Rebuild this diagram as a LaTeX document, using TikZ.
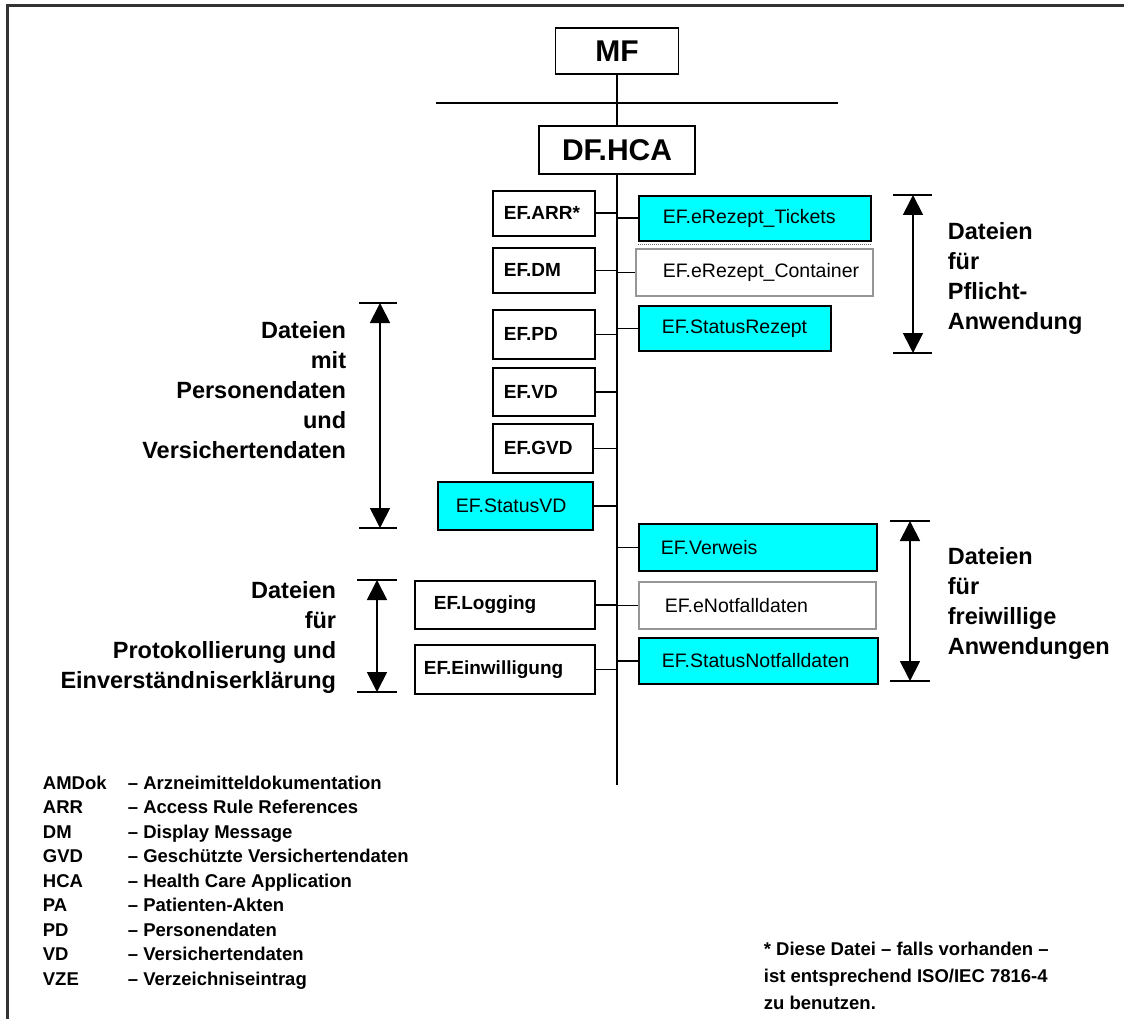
\documentclass[tikz,border=0pt]{standalone}
\usepackage{fontspec}
\setmainfont{Liberation Sans}
\usetikzlibrary{arrows.meta,calc}
\definecolor{efcyan}{RGB}{0,255,255}
\definecolor{efgray}{RGB}{150,150,150}

\begin{document}
\begin{tikzpicture}[x=1pt,y=-1pt,line width=1.8pt,
            every node/.style={inner sep=0pt},
            efbox/.style={draw,anchor=north west,align=left,
              font=\fontsize{19.5}{22}\selectfont},
            efboxb/.style={efbox,font=\fontsize{19}{22}\selectfont\bfseries},
            dimlabel/.style={font=\fontsize{23.5}{30}\selectfont\bfseries},
            dim/.style={line width=1.8pt,{Triangle[length=20pt,width=20pt]}-{Triangle[length=20pt,width=20pt]}},
            >={Stealth[width=3pt]}]
            \useasboundingbox(0,0)rectangle(1124,1019);
            \draw[line width=3pt,black!80](1124,6)--(7,6)--(7,1019);
            % head of the tree
            \node[draw,minimum width=123,minimum height=46,font=\fontsize{30}{32}\selectfont\bfseries]
              (mf) at (617,51) {MF};
            \node[draw,minimum width=156,minimum height=48,font=\fontsize{30}{32}\selectfont\bfseries]
              (hca) at (617,150) {DF.HCA};
            \coordinate (sepl) at (436,103);
            \coordinate (sepr) at (838,103);
            \coordinate (busend) at (617,785);
            \draw(sepl)--(sepr);
            \draw(mf)--(hca);
            \draw(hca.south)--(busend);
            % files left of the bus
            \node[efboxb,minimum height=45,text width=80pt,inner xsep=11pt](arr) at (492,190) {EF.ARR*};
            \node[efboxb,minimum height=45,text width=80pt,inner xsep=11pt](dm) at (492,247) {EF.DM};
            \node[efboxb,minimum height=49,text width=80pt,inner xsep=11pt](pd) at (492,309) {EF.PD};
            \node[efboxb,minimum height=48,text width=80pt,inner xsep=11pt](vd) at (492,367) {EF.VD};
            \node[efboxb,minimum height=49,text width=78pt,inner xsep=11pt](gvd) at (492,423) {EF.GVD};
            \node[efbox,fill=efcyan,minimum height=48,text width=119pt,inner xsep=18pt](statusvd) at (437,481) {EF.StatusVD};
            \node[efboxb,minimum height=48,text width=142pt,inner xsep=19pt](logging) at (414,580) {EF.Logging};
            \node[efboxb,minimum height=49,text width=162pt,inner xsep=9pt](einw) at (414,644) {EF.Einwilligung};
            % files right of the bus
            \node[efbox,fill=efcyan,minimum height=45,text width=184pt,inner xsep=24pt](tickets) at (638,195) {EF.eRezept\_Tickets};
            \node[efbox,draw=efgray,minimum height=47,text width=183pt,inner xsep=27pt](container) at (635,248) {EF.eRezept\_Container};
            \node[efbox,fill=efcyan,minimum height=45,text width=146pt,inner xsep=23pt](statusrez) at (638,305) {EF.StatusRezept};
            \node[efbox,fill=efcyan,minimum height=47,text width=194pt,inner xsep=22pt](verweis) at (638,523) {EF.Verweis};
            \node[efbox,draw=efgray,minimum height=47,text width=185pt,inner xsep=26pt](enotf) at (638,581) {EF.eNotfalldaten};
            \node[efbox,fill=efcyan,minimum height=46,text width=193pt,inner xsep=23pt](statusnotf) at (638,637) {EF.StatusNotfalldaten};
            \draw[densely dotted,line width=1pt,black!60]([yshift=-3pt]tickets.south west)--([yshift=-3pt]tickets.south east);
            \draw(arr.east)--(arr.east-|hca.south);
            \draw(dm.east)--(dm.east-|hca.south);
            \draw(pd.east)--(pd.east-|hca.south);
            \draw(vd.east)--(vd.east-|hca.south);
            \draw(gvd.east)--(gvd.east-|hca.south);
            \draw(statusvd.east)--(statusvd.east-|hca.south);
            \draw(logging.east)--(logging.east-|hca.south);
            \draw(einw.east)--(einw.east-|hca.south);
            \draw(tickets.west)--(tickets.west-|hca.south);
            \draw(container.west)--(container.west-|hca.south);
            \draw(statusrez.west)--(statusrez.west-|hca.south);
            \draw(verweis.west)--(verweis.west-|hca.south);
            \draw(enotf.west)--(enotf.west-|hca.south);
            \draw(statusnotf.west)--(statusnotf.west-|hca.south);
            % ranges of files
            \coordinate (prtop) at (913,195); \coordinate (prbot) at (913,353);
            \coordinate (pvtop) at (380,303); \coordinate (pvbot) at (380,528);
            \coordinate (fwtop) at (910,521); \coordinate (fwbot) at (910,681);
            \coordinate (petop) at (377,580); \coordinate (pebot) at (377,692);
            \draw[dim](prtop)--(prbot);
            \draw[dim](pvtop)--(pvbot);
            \draw[dim](fwtop)--(fwbot);
            \draw[dim](petop)--(pebot);
            \draw([xshift=-20]prtop)--([xshift=19]prtop)([xshift=-20]prbot)--([xshift=19]prbot);
            \draw([xshift=-21]pvtop)--([xshift=17]pvtop)([xshift=-21]pvbot)--([xshift=17]pvbot);
            \draw([xshift=-20]fwtop)--([xshift=20]fwtop)([xshift=-20]fwbot)--([xshift=20]fwbot);
            \draw([xshift=-20]petop)--([xshift=20]petop)([xshift=-20]pebot)--([xshift=20]pebot);
            \node[dimlabel,anchor=west,align=left](prlabel) at (947,278) {Dateien\\für\\Pflicht-\\Anwendung};
            \node[dimlabel,anchor=east,align=right](pvlabel) at (347,390) {Dateien\\mit\\Personendaten\\und\\Versichertendaten};
            \node[dimlabel,anchor=west,align=left](fwlabel) at (947,603) {Dateien\\für\\freiwillige\\Anwendungen};
            \node[dimlabel,anchor=east,align=right](pelabel) at (337,637) {Dateien\\für\\Protokollierung und\\Einverständniserklärung};
            % abbreviations and footnote
            \node[anchor=north west,align=left,font=\fontsize{18.5}{24.5}\selectfont\bfseries](legend) at (42,775)
              {\makebox[85pt][l]{AMDok}– Arzneimitteldokumentation\\
               \makebox[85pt][l]{ARR}– Access Rule References\\
               \makebox[85pt][l]{DM}– Display Message\\
               \makebox[85pt][l]{GVD}– Geschützte Versichertendaten\\
               \makebox[85pt][l]{HCA}– Health Care Application\\
               \makebox[85pt][l]{PA}– Patienten-Akten\\
               \makebox[85pt][l]{PD}– Personendaten\\
               \makebox[85pt][l]{VD}– Versichertendaten\\
               \makebox[85pt][l]{VZE}– Verzeichniseintrag};
            \node[anchor=north west,align=left,font=\fontsize{18.5}{27}\selectfont\bfseries](note) at (763,941)
              {* Diese Datei – falls vorhanden –\\ist entsprechend ISO/IEC 7816-4\\zu benutzen.};
          \end{tikzpicture}
\end{document}
